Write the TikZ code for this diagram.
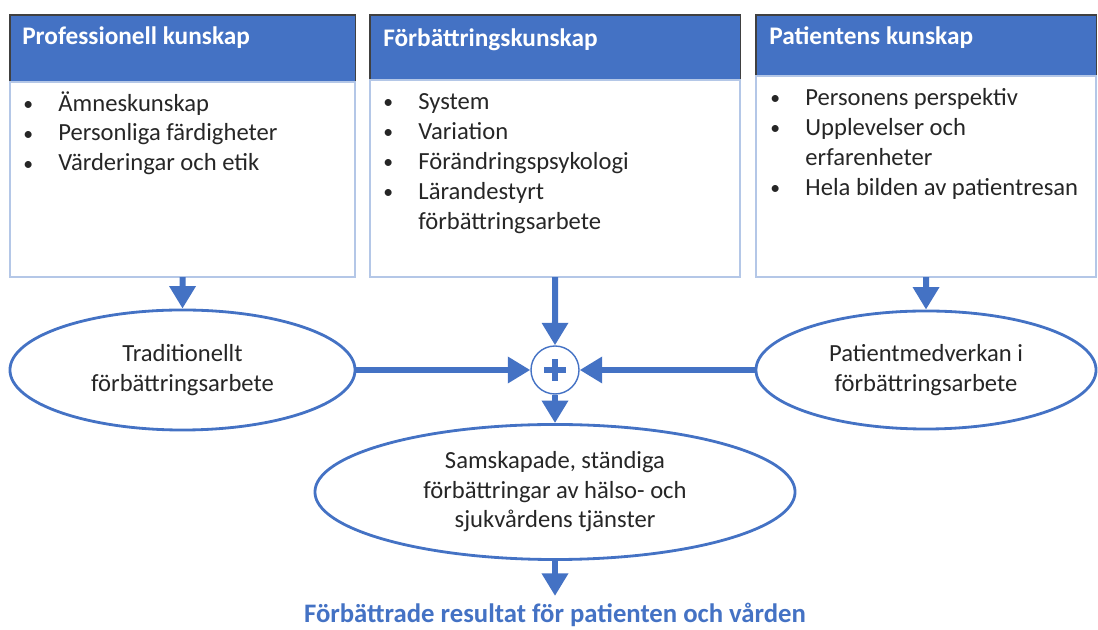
\documentclass[tikz,border=0pt]{standalone}
\usepackage{fontspec}
\setmainfont{Carlito}
\usetikzlibrary{arrows.meta,calc,positioning,shapes.geometric}
\definecolor{hblue}{HTML}{4472C4}
\definecolor{lblue}{HTML}{B4C7E7}
\definecolor{ink}{HTML}{262626}
\newcommand{\bul}{\makebox[25pt][l]{\raisebox{0.5pt}{\scalebox{0.8}{\textbullet}}}}

\begin{document}
\begin{tikzpicture}[>={Triangle[length=16pt,width=18pt]}, x=0.025cm, y=0.025cm,
  head/.style={rectangle,draw=black!75,line width=0.8pt,fill=hblue,outer sep=0pt,anchor=north west},
  title/.style={text=white,font=\fontsize{18}{21}\selectfont\bfseries,inner sep=0pt,anchor=west},
  bodybox/.style={rectangle,draw=lblue,line width=1pt,outer sep=0pt},
  list/.style={text=ink,font=\fontsize{17.5}{21.3}\selectfont,align=left,inner sep=0pt,anchor=north west},
  oval/.style={ellipse,draw=hblue,line width=2pt,text=ink,align=center,
    font=\fontsize{17.5}{21}\selectfont},
  sum/.style={circle,draw=hblue,line width=1pt,minimum size=1.2cm,inner sep=0pt},
  flow/.style={->,draw=hblue,fill=hblue,line width=4.3pt},
  plusbar/.style={draw=hblue,line width=4pt}]
  \useasboundingbox (0,0) rectangle (1098,630);

  % the three kinds of knowledge
  \node[head, minimum width=8.625cm, minimum height=1.675cm] (profhead) at (10,615) {};
  \node[title] (proftitle) at ($(profhead.north west)+(12,-23)$) {Professionell kunskap};
  \node[bodybox, minimum width=8.625cm, minimum height=4.875cm, below=0pt of profhead] (profbody) {};
  \node[list] (proflist) at ($(profbody.north west)+(13,-9)$)
    {\bul Ämneskunskap\\ \bul Personliga färdigheter\\ \bul Värderingar och etik};

  \node[head, minimum width=9.25cm, minimum height=1.625cm] (forhead) at (370,615) {};
  \node[title] (fortitle) at ($(forhead.north west)+(13,-25)$) {Förbättringskunskap};
  \node[bodybox, minimum width=9.25cm, minimum height=4.925cm, below=0pt of forhead] (forbody) {};
  \node[list] (forlist) at ($(forbody.north west)+(13,-13)$)
    {\bul System\\ \bul Variation\\ \bul Förändringspsykologi\\ \bul Lärandestyrt\\
     \hspace*{25pt}förbättringsarbete};

  \node[head, minimum width=8.5cm, minimum height=1.525cm] (pathead) at (756,615) {};
  \node[title] (pattitle) at ($(pathead.north west)+(13,-23)$) {Patientens kunskap};
  \node[bodybox, minimum width=8.5cm, minimum height=5.025cm, below=0pt of pathead] (patbody) {};
  \node[list] (patlist) at ($(patbody.north west)+(14,-12)$)
    {\bul Personens perspektiv\\ \bul Upplevelser och\\ \hspace*{25pt}erfarenheter\\
     \bul Hela bilden av patientresan};

  % improvement work and the sum
  \node[oval, minimum width=8.625cm, minimum height=3cm] (trad) at (182.5,260)
    {Traditionellt\\förbättringsarbete};
  \node[oval, minimum width=8.5cm, minimum height=2.95cm] (pmed) at (926,260)
    {Patientmedverkan i\\förbättringsarbete};
  \node[sum] (sum) at (555,260) {};
  \draw[plusbar] ($(sum.center)+(-11,0)$) -- ($(sum.center)+(11,0)$);
  \draw[plusbar] ($(sum.center)+(0,-11)$) -- ($(sum.center)+(0,11)$);
  \node[oval, minimum width=12cm, minimum height=3.375cm] (result) at (555,138)
    {Samskapade, ständiga\\förbättringar av hälso- och\\sjukvårdens tjänster};
  \node[text=hblue, font=\fontsize{19}{22}\selectfont\bfseries, inner sep=1pt] (outcome) at (555,15)
    {Förbättrade resultat för patienten och vården};

  \draw[flow] (profbody.south) -- (trad.north);
  \draw[flow] (forbody.south) -- (sum.north);
  \draw[flow] (patbody.south) -- (pmed.north);
  \draw[flow] (trad.east) -- (sum.west);
  \draw[flow] (pmed.west) -- (sum.east);
  \draw[flow] (sum.south) -- (result.north);
  \draw[flow, shorten >=4pt] (result.south) -- (outcome.north);
\end{tikzpicture}
\end{document}
